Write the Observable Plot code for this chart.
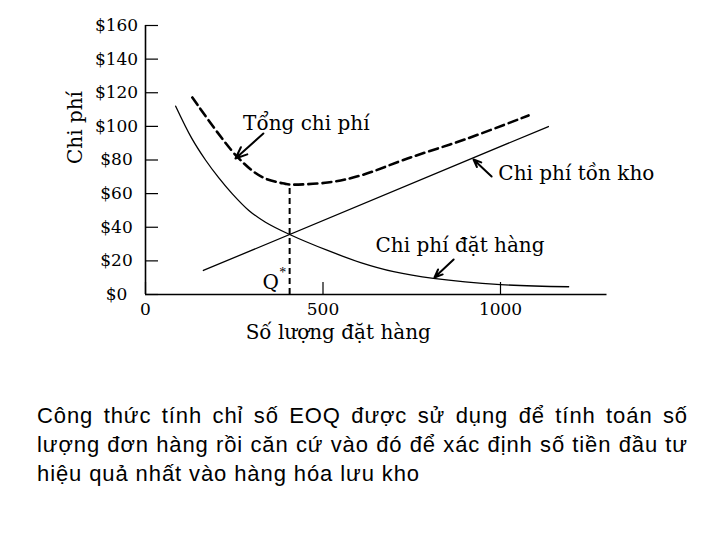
<!DOCTYPE html>
<html><head><meta charset="utf-8">
<script src="https://cdn.jsdelivr.net/npm/d3@7"></script>
<script src="https://cdn.jsdelivr.net/npm/@observablehq/plot@0.6"></script>
<style>
body{margin:0;background:#fff;width:720px;height:540px;overflow:hidden;position:relative}
#chart{position:absolute;left:0;top:0}
#caption{position:absolute;left:37px;top:401px;width:651px;font-family:"Liberation Sans",Arial,sans-serif;font-size:22px;line-height:29px;color:#000;letter-spacing:0.9px}
.j{text-align:justify;text-align-last:justify}
</style></head>
<body><div id="chart"></div><div id="caption"></div>
<script>
// ---- data ----
const orderQty  = [85, 130, 169, 206, 244, 291, 338, 406, 513, 606, 699, 811, 1000, 1192];
const orderCost = [112, 93, 80, 69.5, 60, 50, 43, 35.7, 26.2, 19.0, 13.6, 9.6, 5.9, 4.6];
const holdQty   = [163, 1135];
const holdCost  = [14.3, 99.9];
const totalQty  = [132, 258, 329, 394, 406, 513, 606, 738, 907, 1079];
const totalCost = [117.2, 82.0, 69.8, 65.8, 65.4, 66.6, 70.8, 80.9, 92.8, 106.5];
const qStar = 406;
const qStarCost = 65.4;
const yTicks = [0, 20, 40, 60, 80, 100, 120, 140, 160];
const xTicks = [0, 500, 1000];
const yTitle = "Chi phí";
const xTitle = "Số lượng đặt hàng";
const totalLabel = "Tổng chi phí";
const sideLabels = ["Chi phí tồn kho", "Chi phí đặt hàng"];
const totalLabelQty = 453, totalLabelCost = 101.7;
const sideLabelQty  = [994, 648];
const sideLabelCost = [72, 29.1];
const arrowFromQty  = [332, 975, 868];
const arrowFromCost = [95.8, 70.2, 20.8];
const arrowToQty    = [253.5, 924, 814];
const arrowToCost   = [80.9, 80.3, 10.1];
const captionLines = [
  "Công thức tính chỉ số EOQ được sử dụng để tính toán số",
  "lượng đơn hàng rồi căn cứ vào đó để xác định số tiền đầu tư",
  "hiệu quả nhất vào hàng hóa lưu kho"
];

const toRows = (xs, ys) => xs.map((x, i) => ({x, y: ys[i]}));
const ordering = toRows(orderQty, orderCost);
const holding = toRows(holdQty, holdCost);
const total = toRows(totalQty, totalCost);
const sides = sideLabels.map((t, i) => ({t, x: sideLabelQty[i], y: sideLabelCost[i]}));
const arrows = arrowFromQty.map((q, i) => ({x1: q, y1: arrowFromCost[i], x2: arrowToQty[i], y2: arrowToCost[i]}));

const chart = Plot.plot({
  width: 720, height: 370,
  marginLeft: 145, marginRight: 113.5, marginTop: 25, marginBottom: 76,
  x: {domain: [0, 1300]},
  y: {domain: [0, 160]},
  style: {fontFamily: "DejaVu Serif", fontSize: "17px", color: "black", background: "white"},
  marks: [
    Plot.ruleX([0], {strokeWidth: 1.6}),
    Plot.ruleY([0], {strokeWidth: 1.6}),
    Plot.axisY(yTicks, {tickSize: -13, fill: "none", label: null, strokeWidth: 1.2}),
    Plot.axisY(yTicks, {tickSize: 0, tickPadding: 29, textAnchor: "middle", tickFormat: d => "$" + d, label: null}),
    Plot.axisX(xTicks, {tickSize: -12, fill: "none", label: null, strokeWidth: 1.2}),
    Plot.axisX(xTicks, {tickSize: 0, tickPadding: 8, tickFormat: d => String(d), label: null}),
    Plot.line(ordering, {x: "x", y: "y", curve: "catmull-rom", stroke: "black", strokeWidth: 1.3}),
    Plot.line(holding, {x: "x", y: "y", stroke: "black", strokeWidth: 1.3}),
    Plot.line(total, {x: "x", y: "y", curve: "catmull-rom", stroke: "black", strokeWidth: 2.6, strokeDasharray: "9,5"}),
    Plot.ruleX([qStar], {y1: 0, y2: qStarCost, stroke: "black", strokeWidth: 2, strokeDasharray: "6,4"}),
    Plot.arrow(arrows, {x1: "x1", y1: "y1", x2: "x2", y2: "y2", stroke: "black", strokeWidth: 2, headLength: 10, headAngle: 45}),
    Plot.text([totalLabel], {x: totalLabelQty, y: totalLabelCost, textAnchor: "middle", fontSize: 20, fill: "black"}),
    Plot.text(sides, {x: "x", y: "y", text: "t", textAnchor: "start", fontSize: 20, fill: "black"}),
    Plot.text(["Q"], {x: qStar, y: 0, dx: -19, dy: -12, fontSize: 20, fill: "black"}),
    Plot.text(["*"], {x: qStar, y: 0, dx: -7, dy: -22, fontSize: 14, fill: "#000000", fontFamily: "Liberation Serif"}),
    Plot.text([yTitle], {frameAnchor: "left", dx: -70, dy: 4, rotate: -90, fontSize: 20, fill: "black"}),
    Plot.text([xTitle], {frameAnchor: "bottom", dx: -38, dy: 44, fontSize: 20, fill: "black"})
  ]
});
document.getElementById("chart").appendChild(chart);

const cap = document.getElementById("caption");
captionLines.forEach((line, i) => {
  const d = document.createElement("div");
  d.textContent = line;
  if (i < captionLines.length - 1) d.className = "j";
  cap.appendChild(d);
});
</script>
</body></html>
